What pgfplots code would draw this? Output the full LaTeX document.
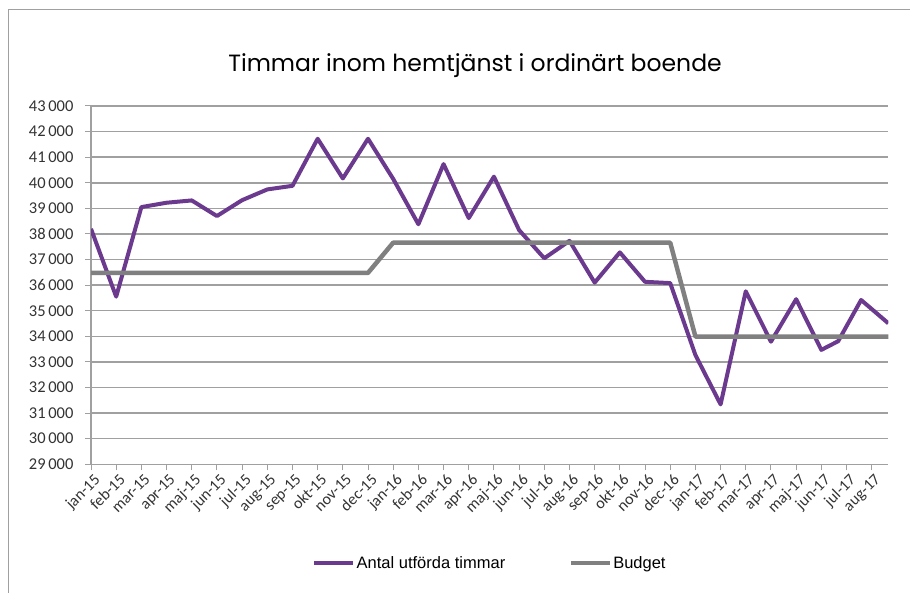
\documentclass[border=0pt]{standalone}
\usepackage{fontspec}
\setmainfont{Carlito}
\newfontfamily\titlefont{Poppins}
\newfontfamily\legendfont{Liberation Sans}
\usepackage{pgfplots}
\pgfplotsset{compat=1.18}
\definecolor{utf}{HTML}{6B3A8E}
\definecolor{bud}{HTML}{808080}
\definecolor{grd}{HTML}{A0A0A0}
\definecolor{txt}{HTML}{333333}

\begin{document}
\begin{tikzpicture}
\useasboundingbox (0pt,0pt) rectangle (910pt,593pt);
\draw[grd, line width=1pt] (8pt,0pt) -- (8pt,583pt) -- (910pt,583pt);
\node[font=\titlefont\fontsize{23.5}{26}\selectfont, text=black] at (475pt,527pt) {Timmar inom hemtjänst i ordinärt boende};
\begin{axis}[
  at={(91pt,128.7pt)}, anchor=south west,
  scale only axis, width=797.3pt, height=358.3pt,
  xmin=0, xmax=31.66, ymin=29000, ymax=43000,
  ytick={29000,30000,...,43000},
  xtick={0,...,31},
  xticklabels={jan-15,feb-15,mar-15,apr-15,maj-15,jun-15,jul-15,aug-15,sep-15,okt-15,nov-15,dec-15,jan-16,feb-16,mar-16,apr-16,maj-16,jun-16,jul-16,aug-16,sep-16,okt-16,nov-16,dec-16,jan-17,feb-17,mar-17,apr-17,maj-17,jun-17,jul-17,aug-17},
  axis lines=left, axis line style={grd, line width=1.2pt, -},
  tick align=outside, major tick length=6pt,
  tick style={grd, line width=1pt},
  ymajorgrids, grid style={grd, line width=1.5pt},
  scaled y ticks=false,
  /pgf/number format/1000 sep={\,},
  /pgf/number format/assume math mode=true,
  yticklabel style={font=\fontsize{16.5}{18}\selectfont, text=txt, xshift=-8pt},
  xticklabel style={rotate=45, anchor=north east, font=\fontsize{16}{18}\selectfont, text=txt, xshift=3pt},
  legend style={at={(0.5,-0.2765)}, anchor=center, draw=none, fill=none,
    legend columns=2, font=\legendfont\fontsize{16.5}{18}\selectfont,
    nodes={inner sep=1.5pt},
    /tikz/every even column/.append style={column sep=62pt}},
  legend image code/.code={\draw[#1, line width=4pt] (0pt,0pt) -- (39pt,0pt);},
]
\addplot[utf, line width=4pt, line join=round] coordinates {
  (0,38200) (1,35550) (2,39050) (3,39220) (4,39310) (5,38700)
  (6,39320) (7,39740) (8,39880) (9,41720) (10,40170) (11,41720)
  (12,40150) (13,38380) (14,40730) (15,38620) (16,40240) (17,38150)
  (18,37050) (19,37730) (20,36100) (21,37280) (22,36130) (23,36080)
  (24,33270) (25,31340) (26,35760) (27,33790) (28,35450) (29,33470)
  (29.67,33810) (30.58,35420) (31.66,34510)
};
\addlegendentry{Antal utförda timmar}
\addplot[bud, line width=4.5pt, line join=round] coordinates {
  (0,36480) (1,36480) (2,36480) (3,36480) (4,36480) (5,36480)
  (6,36480) (7,36480) (8,36480) (9,36480) (10,36480) (11,36480)
  (12,37660) (13,37660) (14,37660) (15,37660) (16,37660) (17,37660)
  (18,37660) (19,37660) (20,37660) (21,37660) (22,37660) (23,37660)
  (24,33990) (25,33990) (26,33990) (27,33990) (28,33990) (29,33990)
  (30,33990) (31,33990) (31.66,33990)
};
\addlegendentry{Budget}
\end{axis}
\end{tikzpicture}
\end{document}
